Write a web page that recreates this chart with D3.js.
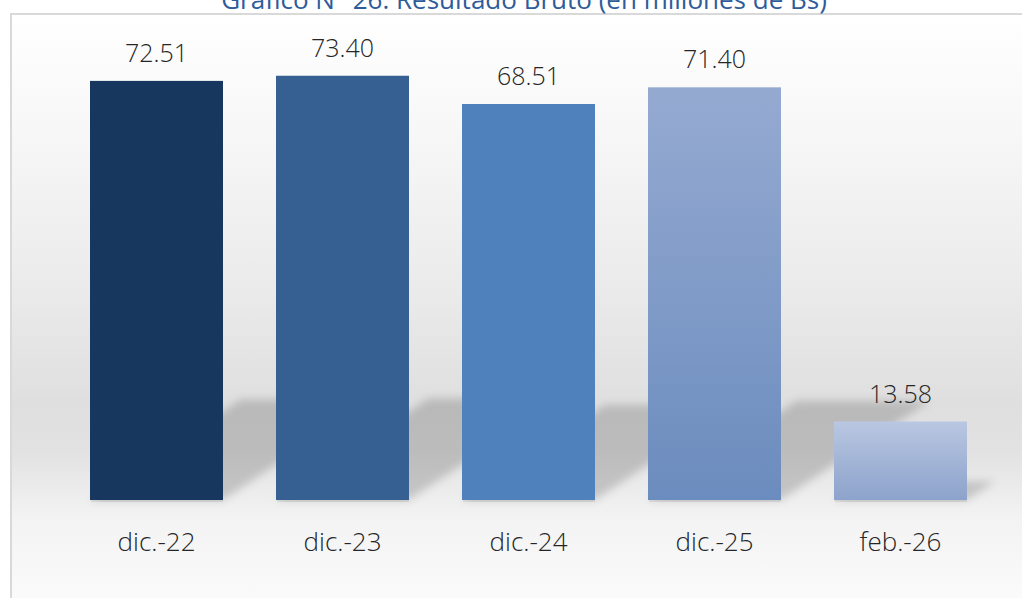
<!DOCTYPE html>
<html>
<head>
<meta charset="utf-8">
<script src="https://cdn.jsdelivr.net/npm/d3@7"></script>
<style>
  html, body { margin: 0; padding: 0; background: #ffffff; }
  svg { display: block; }
</style>
</head>
<body>
<svg id="chart" width="1022" height="598"></svg>
<script>
// ====== DATOS ======
const categorias = ['dic.-22', 'dic.-23', 'dic.-24', 'dic.-25', 'feb.-26'];
const valores = [72.51, 73.40, 68.51, 71.40, 13.58];
const etiquetas = ['72.51', '73.40', '68.51', '71.40', '13.58'];
const titulo = 'Gráfico N° 26: Resultado Bruto (en millones de Bs)';

// colores de cada barra: [arriba, abajo]
const colores = [
  ['#17375e', '#17375e'],
  ['#366092', '#366092'],
  ['#4f81bd', '#4f81bd'],
  ['#95aad1', '#6b8cbe'],
  ['#b9c7e2', '#8ca3cb']
];

const width = 1022, height = 598;
const svg = d3.select('#chart');
const defs = svg.append('defs');

// fondo con degradado gris
const bg = defs.append('linearGradient')
  .attr('id', 'bg').attr('x1', 0).attr('y1', 0).attr('x2', 0).attr('y2', 1);
[[0, '#ffffff'], [0.2, '#f7f7f7'], [0.45, '#ebebeb'], [0.65, '#dfdfdf'],
 [0.73, '#e2e2e2'], [0.84, '#f3f3f3'], [1, '#fcfcfc']].forEach(s => {
  bg.append('stop').attr('offset', s[0]).attr('stop-color', s[1]);
});

colores.forEach((c, i) => {
  const g = defs.append('linearGradient')
    .attr('id', 'bar' + i).attr('x1', 0).attr('y1', 0).attr('x2', 0).attr('y2', 1);
  g.append('stop').attr('offset', 0).attr('stop-color', c[0]);
  g.append('stop').attr('offset', 1).attr('stop-color', c[1]);
});

const blur = defs.append('filter').attr('id', 'blur')
  .attr('x', '-20%').attr('y', '-20%').attr('width', '140%').attr('height', '140%');
blur.append('feGaussianBlur').attr('stdDeviation', 4);

// marco del gráfico
svg.append('rect')
  .attr('x', 11).attr('y', 14).attr('width', 1030).attr('height', 600)
  .attr('fill', 'url(#bg)')
  .attr('stroke', '#d9d9d9').attr('stroke-width', 2);

// título (recortado arriba como en la imagen)
svg.append('text')
  .attr('x', 524).attr('y', 9)
  .attr('text-anchor', 'middle')
  .attr('font-family', 'Open Sans, sans-serif')
  .attr('font-size', 26)
  .attr('fill', '#2e5c9a')
  .text(titulo);

// ====== ESCALAS ======
const x = d3.scaleBand()
  .domain(categorias)
  .range([63.5, 993.5])
  .paddingInner(0.285)
  .paddingOuter(0.1425);

const y = d3.scaleLinear()
  .domain([0, 80])
  .range([500, 37.6]);

const datos = categorias.map((c, i) => ({ cat: c, val: valores[i], lab: etiquetas[i], i: i }));

// sombras en perspectiva
const base = y(0);
svg.append('g').attr('filter', 'url(#blur)')
  .selectAll('path')
  .data(datos)
  .enter()
  .append('path')
  .attr('fill', '#000')
  .attr('fill-opacity', 0.17)
  .attr('d', d => {
    const h = (base - y(d.val)) * 0.24;
    const dx = h * 1.5;
    const x0 = x(d.cat), x1 = x0 + x.bandwidth();
    return `M${x0},${base} L${x1},${base} L${x1 + dx},${base - h} L${x0 + dx},${base - h} Z`;
  });

// sombra fina bajo la barra
svg.append('g')
  .selectAll('rect')
  .data(datos)
  .enter()
  .append('rect')
  .attr('x', d => x(d.cat) + 1)
  .attr('y', base)
  .attr('width', x.bandwidth() - 1)
  .attr('height', 2)
  .attr('fill', '#000')
  .attr('fill-opacity', 0.08);

// barras
svg.append('g')
  .selectAll('rect')
  .data(datos)
  .enter()
  .append('rect')
  .attr('x', d => x(d.cat))
  .attr('y', d => y(d.val))
  .attr('width', x.bandwidth())
  .attr('height', d => base - y(d.val))
  .attr('fill', d => 'url(#bar' + d.i + ')');

// etiquetas de valor
svg.append('g')
  .selectAll('text')
  .data(datos)
  .enter()
  .append('text')
  .attr('x', d => x(d.cat) + x.bandwidth() / 2)
  .attr('y', d => y(d.val) - 19)
  .attr('text-anchor', 'middle')
  .attr('font-family', 'Open Sans, sans-serif')
  .attr('font-weight', 300)
  .attr('font-size', 25)
  .attr('fill', '#262626')
  .text(d => d.lab);

// eje de categorías (sin línea)
const axis = svg.append('g')
  .attr('transform', `translate(0,${base})`)
  .call(d3.axisBottom(x).tickSize(0).tickPadding(0));
axis.select('.domain').remove();
axis.selectAll('text')
  .attr('y', 51)
  .attr('dy', 0)
  .attr('font-family', 'Open Sans, sans-serif')
  .attr('font-weight', 300)
  .attr('font-size', 26)
  .attr('fill', '#262626');
</script>
</body>
</html>
